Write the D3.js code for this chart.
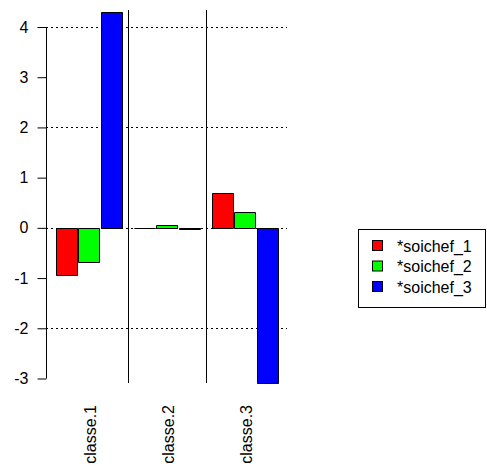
<!DOCTYPE html>
<html><head><meta charset="utf-8">
<script src="https://cdn.jsdelivr.net/npm/d3@7"></script>
<style>body{margin:0;background:#fff}svg{display:block}text{font-family:"Liberation Sans",Arial,sans-serif}</style>
</head><body><svg id="c" width="487" height="467"></svg>
<script>
const categories = ["classe.1","classe.2","classe.3"];
const series = ["*soichef_1","*soichef_2","*soichef_3"];
const soichef_1 = [-0.93, 0.0, 0.70];
const soichef_2 = [-0.68, 0.05, 0.32];
const soichef_3 = [4.30, -0.03, -3.09];
const colors = ["#ff0000","#00ff00","#0000ff"];
const yTicks = [-3,-2,-1,0,1,2,3,4];
const gridVals = [-2,0,2,4];

const values = [soichef_1, soichef_2, soichef_3];
const svg = d3.select("#c");
const y = d3.scaleLinear().domain([-3,4]).range([378.5,27]);
const x0 = d3.scaleBand().domain(categories).range([50,284]).paddingInner(0.154).paddingOuter(0.077);
const x1 = d3.scaleBand().domain(series).range([0,x0.bandwidth()]).paddingInner(0.06);

// grid
svg.append("g").selectAll("line").data(gridVals).join("line")
  .attr("x1",46).attr("x2",287).attr("y1",d=>Math.round(y(d))+0.5).attr("y2",d=>Math.round(y(d))+0.5)
  .attr("stroke","#000").attr("stroke-width",1).attr("stroke-dasharray","2,3");

// separators
const seps = categories.slice(1).map((c,i)=> (x0(categories[i])+x0.bandwidth()+x0(c))/2);
svg.append("g").selectAll("line").data(seps).join("line")
  .attr("x1",d=>Math.round(d)+0.5).attr("x2",d=>Math.round(d)+0.5).attr("y1",10).attr("y2",383)
  .attr("stroke","#000").attr("stroke-width",1);

// bars (paths so zero-height bars still show their outline)
const rows = [];
categories.forEach((c,ci)=>series.forEach((s,si)=>rows.push({c,s,si,v:values[si][ci]})));
const bw = Math.round(x1.bandwidth());
svg.append("g").selectAll("path").data(rows).join("path")
  .attr("d",d=>{
    const x = Math.round(x0(d.c)+x1(d.s))+0.5;
    const y0 = Math.round(y(0))+0.5;
    const yv = Math.round(y(d.v))+0.5;
    return `M${x},${y0}V${yv}H${x+bw}V${y0}Z`;
  })
  .attr("fill",d=>colors[d.si]).attr("stroke","#000").attr("stroke-width",1);

// y axis
const ya = svg.append("g").attr("transform","translate(46.5,0)")
  .call(d3.axisLeft(y).tickValues(yTicks).tickSize(9).tickPadding(9).tickFormat(d=>String(d)));
ya.select(".domain").attr("d",`M-0,${y(-3)}V${y(4)}`).attr("stroke","#000");
ya.selectAll("text").attr("font-size",16).attr("fill","#000").attr("font-family","Liberation Sans, Arial, sans-serif");
ya.selectAll(".tick line").attr("stroke","#000");

// x labels
svg.append("g").selectAll("text").data(categories).join("text")
  .attr("transform",d=>`translate(${x0(d)+x0.bandwidth()/2+7},405) rotate(-90)`)
  .attr("text-anchor","end").attr("font-size",16).text(d=>d);

// legend
const lg = svg.append("g");
lg.append("rect").attr("x",358.5).attr("y",229.5).attr("width",127).attr("height",78)
  .attr("fill","none").attr("stroke","#000");
series.forEach((s,i)=>{
  lg.append("rect").attr("x",372.5).attr("y",240.5+i*20.5).attr("width",10).attr("height",10)
    .attr("fill",colors[i]).attr("stroke","#000");
  lg.append("text").attr("x",397).attr("y",251.5+i*20.5).attr("font-size",16).text(s);
});
</script></body></html>
